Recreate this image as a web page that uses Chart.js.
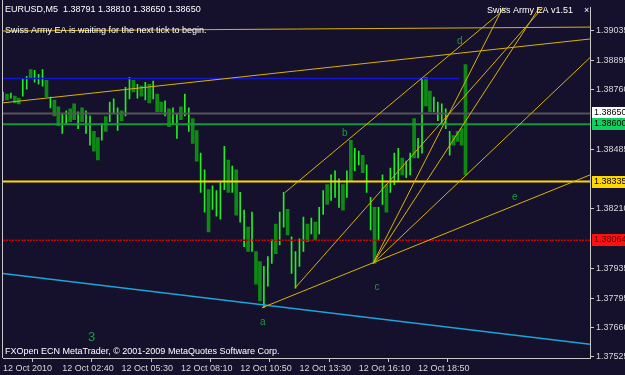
<!DOCTYPE html>
<html>
<head>
<meta charset="utf-8">
<script src="https://cdn.jsdelivr.net/npm/chart.js@4.4.0/dist/chart.umd.min.js"></script>
<style>
  html, body { margin: 0; padding: 0; background: #15102c; }
  canvas { display: block; }
</style>
</head>
<body>
<canvas id="mt4" width="625" height="375"></canvas>
<script>
// EURUSD M5, one entry every second bar (10 minutes)
const barHigh = [
  1.38749, 1.38740, 1.38744, 1.38730, 1.38721, 1.38812, 1.38821, 1.38853, 1.38849, 1.38831,
  1.38853, 1.38803, 1.38726, 1.38712, 1.38680, 1.38649, 1.38662, 1.38671, 1.38694, 1.38658,
  1.38676, 1.38662, 1.38639, 1.38567, 1.38539, 1.38603, 1.38635, 1.38703, 1.38717, 1.38676,
  1.38662, 1.38771, 1.38817, 1.38803, 1.38785, 1.38776, 1.38794, 1.38785, 1.38799, 1.38740,
  1.38703, 1.38708, 1.38671, 1.38676, 1.38649, 1.38680, 1.38740, 1.38676, 1.38626, 1.38571,
  1.38467, 1.38389, 1.38298, 1.38316, 1.38294, 1.38330, 1.38498, 1.38435, 1.38407, 1.38389,
  1.38285, 1.38203, 1.38125, 1.38194, 1.38012, 1.37966, 1.37943, 1.37989, 1.38066, 1.38139,
  1.38194, 1.38285, 1.38207, 1.38080, 1.38012, 1.38071, 1.38171, 1.38139, 1.38166, 1.38148,
  1.38216, 1.38294, 1.38321, 1.38366, 1.38385, 1.38348, 1.38321, 1.38385, 1.38526, 1.38489,
  1.38476, 1.38457, 1.38412, 1.38262, 1.38216, 1.38216, 1.38366, 1.38321, 1.38398, 1.38467,
  1.38489, 1.38444, 1.38430, 1.38467, 1.38626, 1.38535, 1.38808, 1.38817, 1.38753, 1.38726,
  1.38703, 1.38694, 1.38671, 1.38567, 1.38548, 1.38567, 1.38580, 1.38876
];
const barLow = [
  1.38708, 1.38712, 1.38721, 1.38699, 1.38694, 1.38730, 1.38762, 1.38812, 1.38794, 1.38785,
  1.38776, 1.38726, 1.38676, 1.38639, 1.38594, 1.38558, 1.38598, 1.38612, 1.38621, 1.38580,
  1.38612, 1.38558, 1.38503, 1.38476, 1.38435, 1.38526, 1.38567, 1.38612, 1.38649, 1.38571,
  1.38617, 1.38639, 1.38717, 1.38749, 1.38721, 1.38730, 1.38712, 1.38699, 1.38717, 1.38658,
  1.38658, 1.38639, 1.38589, 1.38603, 1.38535, 1.38621, 1.38639, 1.38567, 1.38512, 1.38430,
  1.38285, 1.38194, 1.38103, 1.38207, 1.38175, 1.38162, 1.38298, 1.38285, 1.38285, 1.38180,
  1.38148, 1.38034, 1.38012, 1.38012, 1.37861, 1.37784, 1.37752, 1.37852, 1.37957, 1.38002,
  1.38043, 1.38125, 1.38089, 1.37911, 1.37843, 1.37943, 1.38012, 1.38057, 1.38093, 1.38066,
  1.38093, 1.38184, 1.38230, 1.38248, 1.38262, 1.38216, 1.38203, 1.38262, 1.38339, 1.38385,
  1.38412, 1.38376, 1.38285, 1.38112, 1.37957, 1.38066, 1.38230, 1.38194, 1.38285, 1.38321,
  1.38339, 1.38366, 1.38353, 1.38366, 1.38444, 1.38444, 1.38467, 1.38685, 1.38658, 1.38658,
  1.38617, 1.38603, 1.38580, 1.38457, 1.38503, 1.38521, 1.38503, 1.38366
];
// 1 = up bar, 0 = down bar
const barUp = [
  1,0,1,0,0,1,1,0,1,1, 1,0,1,0,0,1,1,0,0,1, 0,1,1,0,0,1,0,1,1,1,
  0,1,1,0,1,0,1,0,1,0, 0,1,0,1,1,0,1,1,0,0, 1,1,0,1,1,1,1,0,1,0,
  1,1,0,1,0,0,1,1,1,0, 1,1,0,1,1,1,1,0,1,0, 1,1,0,1,1,1,0,1,0,1,
  1,0,1,1,0,1,1,0,1,1, 1,0,1,1,0,1,1,0,0,1, 1,1,1,1,0,0,0,0
];
const barStep = 2;

const timeLabels = ['12 Oct 2010', '12 Oct 02:40', '12 Oct 05:30', '12 Oct 08:10',
                    '12 Oct 10:50', '12 Oct 13:30', '12 Oct 16:10', '12 Oct 18:50'];
const timeTickEvery = 30;
const priceTicks = [1.37525, 1.37660, 1.37795, 1.37935, 1.38210, 1.38485, 1.38760, 1.38895, 1.39035];

// horizontal levels: price, end bar
const levelPrices = [1.38650, 1.38600, 1.38335, 1.38064];
const bluePrice = 1.38812, blueEnd = 231;

// trend lines: [bar1, price1, bar2, price2]
const trendYellow = [
  [0, 1.39031, 297, 1.39049],
  [0, 1.38699, 297, 1.38994],
  [131.0, 1.37752, 297, 1.38366],
  [142.7, 1.38285, 261.6, 1.39192],
  [147.7, 1.37843, 281.8, 1.39228],
  [187.2, 1.37957, 261.6, 1.39295],
  [187.2, 1.37957, 281.8, 1.39286],
  [187.2, 1.37957, 297, 1.38908]
];
const trendCyan = [0, 1.37911, 297, 1.37584];

// wave labels: text, bar, price
const waveLabels = [
  ['a', 130, 1.37684], ['b', 171.5, 1.38558], ['c', 188, 1.37848],
  ['d', 229.7, 1.38985], ['e', 257.5, 1.38262], ['3', 43, 1.37616]
];

const font = 'Liberation Sans';

function seg(t) { return [{ x: t[0], y: t[1] }, { x: t[2], y: t[3] }]; }
function lineSet(data, color, width, dash) {
  return { type: 'line', data, borderColor: color, borderWidth: width, borderDash: dash || [],
           pointRadius: 0, fill: false, tension: 0 };
}

const datasets = [];
trendYellow.forEach(t => datasets.push(lineSet(seg(t), '#d8b400', 1)));
datasets.push(lineSet(seg(trendCyan), '#1aa6d8', 1.5));
datasets.push(lineSet(seg([0, bluePrice, blueEnd, bluePrice]), '#1414d8', 1.5));
datasets.push(lineSet(seg([0, levelPrices[0], 297, levelPrices[0]]), '#555555', 2));
datasets.push(lineSet(seg([0, levelPrices[1], 297, levelPrices[1]]), '#11983a', 2));
datasets.push(lineSet(seg([0, levelPrices[2], 297, levelPrices[2]]), '#ffd700', 2));
datasets.push(lineSet(seg([0, levelPrices[3], 297, levelPrices[3]]), '#c80000', 1.5, [2, 1]));

const upBars = [], downBars = [];
barHigh.forEach((h, i) => {
  const pt = { x: i * barStep, y: [barLow[i], h] };
  (barUp[i] ? upBars : downBars).push(pt);
});
datasets.push({ type: 'bar', data: upBars, backgroundColor: '#22ee22', barThickness: 1, grouped: false });
datasets.push({ type: 'bar', data: downBars, backgroundColor: '#0e8a14', barThickness: 3, grouped: false });

const overlay = {
  id: 'overlay',
  beforeDraw(chart) {
    const ctx = chart.ctx;
    ctx.save();
    ctx.fillStyle = '#15102c';
    ctx.fillRect(0, 0, chart.width, chart.height);
    ctx.restore();
  },
  afterDraw(chart) {
    const { ctx, chartArea: a, scales: { x, y } } = chart;
    ctx.save();
    ctx.strokeStyle = '#c8c8c8';
    ctx.lineWidth = 1;
    ctx.beginPath();
    ctx.moveTo(a.left - 0.5, 0); ctx.lineTo(a.left - 0.5, a.bottom);
    ctx.stroke();

    ctx.textBaseline = 'middle';
    ctx.font = '9px "' + font + '"';
    ctx.fillStyle = '#ffffff';
    ctx.fillText('EURUSD,M5  1.38791 1.38810 1.38650 1.38650', 5, 10);
    ctx.fillText('Swiss Army EA is waiting for the next tick to begin.', 5, 31);
    ctx.fillText('Swiss Army EA v1.51', 487, 11);
    ctx.fillText('FXOpen ECN MetaTrader, \u00a9 2001-2009 MetaQuotes Software Corp.', 5, 352);
    ctx.fillText('\u00d7', 584, 11);

    // price boxes on the axis
    const boxes = [['#ffffff', '#000000'], ['#10d060', '#000000'], ['#ffd700', '#000000'], ['#ff1010', '#600000']];
    levelPrices.forEach((p, i) => {
      const py = Math.round(y.getPixelForValue(p));
      ctx.fillStyle = boxes[i][0];
      ctx.fillRect(a.right + 2, py - 6, 34, 12);
      ctx.fillStyle = boxes[i][1];
      ctx.fillText(p.toFixed(5), a.right + 4, py);
    });

    ctx.fillStyle = '#1f9a3c';
    waveLabels.forEach(l => {
      ctx.font = (l[0] === '3' ? 13 : 10) + 'px "' + font + '"';
      ctx.fillText(l[0], x.getPixelForValue(l[1]), y.getPixelForValue(l[2]));
    });
    ctx.restore();
  }
};

new Chart(document.getElementById('mt4'), {
  type: 'bar',
  data: { datasets },
  plugins: [overlay],
  options: {
    responsive: false,
    animation: false,
    devicePixelRatio: 1,
    layout: { padding: { left: 3, top: 2, right: 0, bottom: 0 } },
    plugins: { legend: { display: false }, tooltip: { enabled: false } },
    scales: {
      x: {
        type: 'linear', min: 0, max: 297, offset: false,
        grid: { drawOnChartArea: false, tickLength: 4, color: '#c8c8c8' },
        border: { color: '#c8c8c8' },
        afterBuildTicks: s => { s.ticks = timeLabels.map((t, i) => ({ value: i * timeTickEvery })); },
        afterFit: s => { s.height = 17; },
        ticks: {
          autoSkip: false, maxRotation: 0, align: 'start', padding: 1, color: '#d8d8d8',
          font: { family: font, size: 9 },
          callback: (v, i) => timeLabels[i]
        }
      },
      y: {
        position: 'right', min: 1.37520, max: 1.39140,
        grid: { drawOnChartArea: false, tickLength: 4, color: '#c8c8c8' },
        border: { color: '#c8c8c8' },
        afterBuildTicks: s => { s.ticks = priceTicks.map(v => ({ value: v })); },
        afterFit: s => { s.width = 35; },
        ticks: {
          padding: 2, color: '#d8d8d8', font: { family: font, size: 9 },
          callback: v => v.toFixed(5)
        }
      }
    }
  }
});
</script>
</body>
</html>
